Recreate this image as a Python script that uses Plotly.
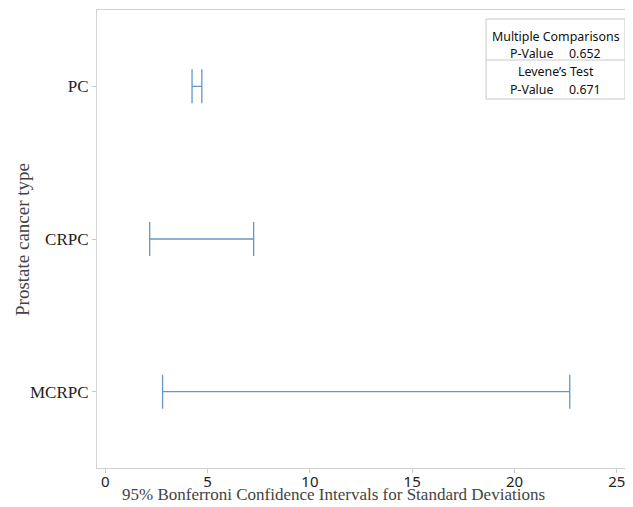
import plotly.graph_objects as go

categories = ["MCRPC", "CRPC", "PC"]
lower = [2.80, 2.17, 4.24]
upper = [22.70, 7.25, 4.72]
x_ticks = [0, 5, 10, 15, 20, 25]
box_rows = [("Multiple Comparisons", None), ("P-Value", "0.652"), ("Levene\u2019s Test", None), ("P-Value", "0.671")]
x_title = "95% Bonferroni Confidence Intervals for Standard Deviations"
y_title = "Prostate cancer type"

# the page body has an 8px margin, so the figure is drawn 8px in from the window corner
OFF = 8
W, H = 633 - OFF, 507 - OFF
# plot area in window pixels
L, R, T, B = 97, 625, 10, 468
def px(x):
    return (x - L) / (R - L)
def py(y):
    return (B - y) / (B - T)

center = [(a + b) / 2 for a, b in zip(lower, upper)]
plus = [u - c for u, c in zip(upper, center)]
minus = [c - l for c, l in zip(center, lower)]

line_color = "#6796c4"
fig = go.Figure()
fig.add_trace(go.Scatter(
    x=center, y=categories, mode="markers",
    marker=dict(size=1, opacity=0),
    error_x=dict(type="data", symmetric=False, array=plus, arrayminus=minus,
                 width=17, thickness=1.3, color=line_color),
    showlegend=False, hoverinfo="skip",
))

serif = "Liberation Serif, Times New Roman, serif"
sans = "Noto Sans, Open Sans, sans-serif"

fig.update_layout(
    width=W, height=H,
    margin=dict(l=L - OFF, r=633 - R, t=T - OFF, b=507 - B, pad=0, autoexpand=False),
    paper_bgcolor="white", plot_bgcolor="white",
    xaxis=dict(range=[-0.405, 25.4], tickvals=x_ticks, showgrid=False, zeroline=False,
               automargin=False,
               showline=True, linecolor="#d3d3d3", linewidth=1, mirror=True,
               ticks="outside", ticklen=4, tickcolor="#c8c8c8", ticklabelstandoff=-4,
               tickfont=dict(family=sans, size=15, color="#222222")),
    yaxis=dict(type="category", categoryorder="array", categoryarray=categories,
               range=[-0.5, 2.5], showgrid=False, zeroline=False, automargin=False,
               showline=True, linecolor="#d3d3d3", linewidth=1, mirror=True,
               ticks="outside", ticklen=4, tickcolor="#c8c8c8",
               tickfont=dict(family=serif, size=17, color="#222222")),
)

fig.add_annotation(x=px(333), y=py(494), xref="paper", yref="paper", text=x_title, showarrow=False,
                   xanchor="center", yanchor="middle", font=dict(family=serif, size=17, color="#444444"))
fig.add_annotation(x=px(23), y=py(240), xref="paper", yref="paper", text=y_title, showarrow=False,
                   textangle=-90, xanchor="center", yanchor="middle",
                   font=dict(family=serif, size=19, color="#444444"))

# stats box
bx0, bx1, by0, by1, bsep = 486, 625, 99, 19, 60
fig.add_shape(type="rect", xref="paper", yref="paper", x0=px(bx0), x1=px(bx1), y0=py(by0), y1=py(by1),
              line=dict(color="#c8c8c8", width=1), fillcolor="white", layer="above")
fig.add_shape(type="line", xref="paper", yref="paper", x0=px(bx0), x1=px(bx1), y0=py(bsep), y1=py(bsep),
              line=dict(color="#c8c8c8", width=1))
row_y = [36, 53, 71, 89]
fs = 12.4
for (label, val), yy in zip(box_rows, row_y):
    if val is None:
        fig.add_annotation(x=px(556), y=py(yy), xref="paper", yref="paper", text=label, showarrow=False,
                           xanchor="center", yanchor="middle", font=dict(family=sans, size=fs, color="#111111"))
    else:
        fig.add_annotation(x=px(531.5), y=py(yy), xref="paper", yref="paper", text=label, showarrow=False,
                           xanchor="center", yanchor="middle", font=dict(family=sans, size=fs, color="#111111"))
        fig.add_annotation(x=px(584.5), y=py(yy), xref="paper", yref="paper", text=val, showarrow=False,
                           xanchor="center", yanchor="middle", font=dict(family=sans, size=fs, color="#111111"))

fig.write_html("out.html")
